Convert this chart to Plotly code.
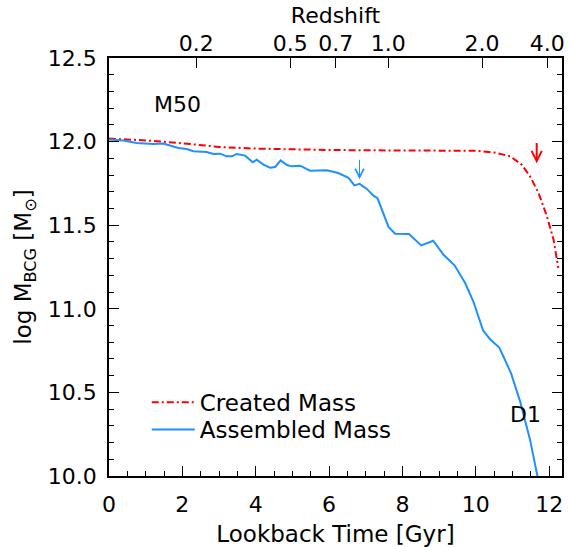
import plotly.graph_objects as go

# ---------------- data ----------------
t_assembled = [0.00, 0.39, 0.75, 1.21, 1.48, 1.89, 2.12, 2.30, 2.66, 2.85,
               3.03, 3.21, 3.35, 3.48, 3.71, 3.92, 4.03, 4.21, 4.39, 4.53,
               4.68, 4.85, 4.98, 5.21, 5.48, 5.94, 6.25, 6.53, 6.69, 6.83,
               7.03, 7.21, 7.32, 7.46, 7.62, 7.80, 8.18, 8.51, 8.84, 9.12,
               9.42, 9.71, 9.94, 10.20, 10.39, 10.64, 10.96, 11.21, 11.48, 11.68]
m_assembled = [12.012, 12.006, 11.992, 11.986, 11.988, 11.962, 11.956, 11.942, 11.938, 11.926,
               11.928, 11.912, 11.912, 11.926, 11.916, 11.876, 11.892, 11.862, 11.844, 11.848,
               11.888, 11.860, 11.852, 11.856, 11.826, 11.828, 11.812, 11.783, 11.738, 11.747,
               11.717, 11.677, 11.661, 11.580, 11.490, 11.449, 11.447, 11.379, 11.407, 11.323,
               11.260, 11.154, 11.040, 10.870, 10.818, 10.768, 10.615, 10.445, 10.216, 10.000]

t_created = [0.0, 1.0, 2.0, 3.0, 4.0, 5.0, 6.0, 7.0, 8.0, 9.0, 10.0, 10.5,
             10.94, 11.25, 11.48, 11.71, 11.94, 12.12, 12.25]
m_created = [12.018, 12.007, 11.990, 11.968, 11.958, 11.952, 11.950, 11.948, 11.947, 11.947,
             11.945, 11.935, 11.912, 11.862, 11.792, 11.693, 11.553, 11.413, 11.244]

redshift_labels = ["0.2", "0.5", "0.7", "1.0", "2.0", "4.0"]
redshift_lookback = [2.38, 4.94, 6.18, 7.61, 10.17, 11.95]

x_ticks = [0, 2, 4, 6, 8, 10, 12]
y_ticks = [10.0, 10.5, 11.0, 11.5, 12.0, 12.5]

# arrows: (lookback time, tail mass, head mass)
arrow_created = (11.66, 12.00, 11.87)
arrow_assembled = (6.83, 11.90, 11.775)

X_RANGE = [0, 12.35]
Y_RANGE = [10.0, 12.5]

FONT = "DejaVu Sans"
RED = "#ff0000"
BLUE = "#1e90ff"

fig = go.Figure()
fig.add_trace(go.Scatter(
    x=t_created, y=m_created, mode="lines", name="Created Mass", legend="legend",
    line=dict(color=RED, width=2, dash="7px,3px,2px,3px")))
fig.add_trace(go.Scatter(
    x=t_assembled, y=m_assembled, mode="lines", name="Assembled Mass", legend="legend2",
    line=dict(color=BLUE, width=2)))
# invisible trace to activate the top (redshift) axis
fig.add_trace(go.Scatter(x=[X_RANGE[0]], y=[Y_RANGE[0]], xaxis="x2", mode="markers",
                         marker=dict(opacity=0), showlegend=False, hoverinfo="skip"))

axis_font = dict(family=FONT, size=22, color="black")
title_font = dict(family=FONT, size=23, color="black")
legend_common = dict(xanchor="left", yanchor="top", bgcolor="rgba(0,0,0,0)", borderwidth=0,
                     itemwidth=43, font=dict(family=FONT, size=23, color="black"))

fig.update_layout(
    width=571, height=547,
    margin=dict(l=109, r=9, t=58, b=71, autoexpand=False),
    paper_bgcolor="white", plot_bgcolor="white",
    font=axis_font,
    showlegend=True,
    legend=dict(x=0.0834, y=0.228, **legend_common),
    legend2=dict(x=0.0834, y=0.1627, **legend_common),
    xaxis=dict(
        range=X_RANGE, tickvals=x_ticks, ticks="inside", ticklen=10, tickwidth=1.3,
        tickcolor="black", showline=True, linecolor="black", linewidth=1.5,
        mirror=True, showgrid=False, zeroline=False, automargin=False,
        minor=dict(dtick=0.5, ticks="inside", ticklen=5, tickwidth=1.3, tickcolor="black",
                   showgrid=False),
        ticklabelstandoff=8, tickfont=axis_font,
        title=dict(text="Lookback Time [Gyr]", font=title_font, standoff=10)),
    xaxis2=dict(
        overlaying="x", side="top", range=X_RANGE,
        tickvals=redshift_lookback, ticktext=redshift_labels,
        ticks="inside", ticklen=10, tickwidth=1.3, tickcolor="black",
        showline=False, showgrid=False, zeroline=False, automargin=False,
        ticklabelstandoff=2, tickfont=axis_font,
        title=dict(text="Redshift", font=axis_font, standoff=0)),
    yaxis=dict(
        range=Y_RANGE, tickvals=y_ticks, tickformat=".1f",
        ticks="inside", ticklen=10, tickwidth=1.3, tickcolor="black",
        showline=True, linecolor="black", linewidth=1.5, mirror="ticks",
        showgrid=False, zeroline=False, automargin=False,
        minor=dict(dtick=0.1, ticks="inside", ticklen=5, tickwidth=1.3, tickcolor="black",
                   showgrid=False),
        ticklabelstandoff=6, tickfont=axis_font,
        title=dict(text="log M<sub>BCG</sub> [M<sub>⊙</sub>]", font=title_font, standoff=10)),
)

fig.add_annotation(x=1.16, y=12.22, text="M50", showarrow=False, xanchor="left",
                   font=dict(family=FONT, size=22, color="black"))
fig.add_annotation(x=11.35, y=10.37, text="D1", showarrow=False, xanchor="center",
                   font=dict(family=FONT, size=22, color="black"))

fig.add_annotation(x=arrow_created[0], y=arrow_created[2], ax=arrow_created[0], ay=arrow_created[1],
                   axref="x", ayref="y", xref="x", yref="y", text="", showarrow=True,
                   arrowhead=5, arrowsize=1.0, arrowwidth=2, arrowcolor=RED)
fig.add_annotation(x=arrow_assembled[0], y=arrow_assembled[2], ax=arrow_assembled[0], ay=arrow_assembled[1],
                   axref="x", ayref="y", xref="x", yref="y", text="", showarrow=True,
                   arrowhead=5, arrowsize=1.7, arrowwidth=1, arrowcolor=BLUE)

fig.write_html("out.html", config={"displayModeBar": False},
               post_script="document.body.style.margin='0';document.body.style.padding='0';")
